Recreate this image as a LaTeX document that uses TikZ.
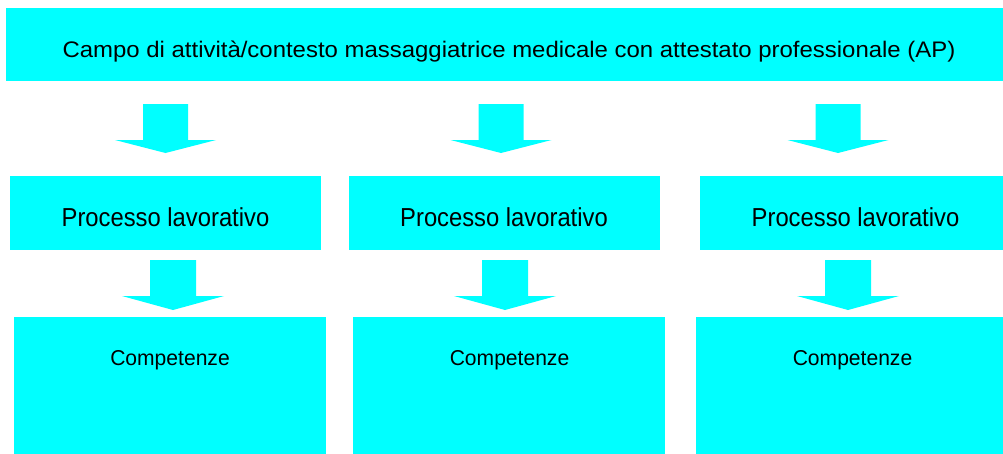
\documentclass[tikz,border=0pt]{standalone}
\usepackage{fontspec}
\setmainfont{Liberation Sans}
\usepackage{graphicx}
\definecolor{boxcyan}{HTML}{00FFFF}
\begin{document}
\begin{tikzpicture}[x=1pt,y=-1pt,
  box/.style={fill=boxcyan, draw=none, inner sep=0pt, outer sep=0pt, anchor=north west},
  lbl/.style={inner sep=0pt, anchor=base, text=black},
  blk/.style={fill=boxcyan, draw=none}]
\useasboundingbox (0,0) rectangle (1003,453);
% boxes
\node[box, minimum width=1004pt, minimum height=73pt] (top) at (6,8) {};
\node[box, minimum width=311pt, minimum height=74pt] (pb1) at (10,176) {};
\node[box, minimum width=311pt, minimum height=74pt] (pb2) at (349,176) {};
\node[box, minimum width=311pt, minimum height=74pt] (pb3) at (700,176) {};
\node[box, minimum width=312pt, minimum height=143pt] (cb1) at (14,317) {};
\node[box, minimum width=312pt, minimum height=143pt] (cb2) at (353,317) {};
\node[box, minimum width=313pt, minimum height=143pt] (cb3) at (696,317) {};
% texts
\node[lbl] (ttop) at (509,57) {\fontsize{22.5}{26}\selectfont\scalebox{1.064}[1]{Campo di attività/contesto massaggiatrice medicale con attestato professionale (AP)}};
\node[lbl] (p1) at (165.5,226) {\fontsize{26}{30}\selectfont\scalebox{0.915}[1]{Processo lavorativo}};
\node[lbl] (p2) at (504,226) {\fontsize{26}{30}\selectfont\scalebox{0.915}[1]{Processo lavorativo}};
\node[lbl] (p3) at (855.5,226) {\fontsize{26}{30}\selectfont\scalebox{0.915}[1]{Processo lavorativo}};
\node[lbl] (c1) at (170,365.5) {\fontsize{21.5}{25}\selectfont\scalebox{0.98}[1]{Competenze}};
\node[lbl] (c2) at (509.5,365.5) {\fontsize{21.5}{25}\selectfont\scalebox{0.98}[1]{Competenze}};
\node[lbl] (c3) at (852.5,365.5) {\fontsize{21.5}{25}\selectfont\scalebox{0.98}[1]{Competenze}};
% block arrows
\foreach \cx in {165.5,501,838}{
  \fill[blk] (\cx-22.5,104) -- (\cx+22.5,104) -- (\cx+22.5,140) -- (\cx+50.5,140)
    -- (\cx,153) -- (\cx-50.5,140) -- (\cx-22.5,140) -- cycle;
}
\foreach \cx in {173,505,848}{
  \fill[blk] (\cx-23,260) -- (\cx+23,260) -- (\cx+23,296) -- (\cx+51,296)
    -- (\cx,310) -- (\cx-51,296) -- (\cx-23,296) -- cycle;
}
\end{tikzpicture}
\end{document}
